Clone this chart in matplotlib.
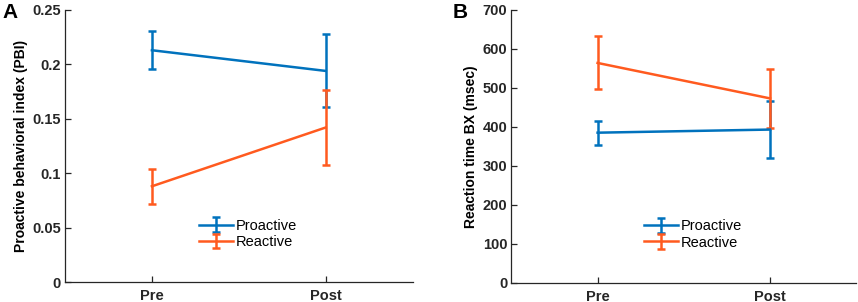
import matplotlib.pyplot as plt
import numpy as np

plt.rcParams['font.family'] = ['Liberation Sans', 'DejaVu Sans']

sessions = ['Pre', 'Post']
x = np.array([1, 2])

# Panel A: proactive behavioral index
pbi_pro = [0.213, 0.194]
pbi_pro_err = [0.0175, 0.0335]
pbi_re = [0.088, 0.142]
pbi_re_err = [0.016, 0.0345]

# Panel B: reaction time BX (msec)
rt_pro = [385, 393]
rt_pro_err = [31, 74]
rt_re = [564, 473]
rt_re_err = [68, 76]

blue = '#0072BD'
orange = '#FF5A1F'

fig = plt.figure(figsize=(8.58, 3.02), dpi=100)
axA = fig.add_axes([0.0758, 0.066, 0.405, 0.901])
axB = fig.add_axes([0.596, 0.064, 0.402, 0.903])


def style(ax, ylim, yticks, yticklabels, ylabel, legend_pos):
    ax.set_xlim(0.5, 2.5)
    ax.set_ylim(*ylim)
    ax.set_xticks(x)
    ax.set_xticklabels(sessions, fontsize=10.5, fontweight='bold')
    ax.set_yticks(yticks)
    ax.set_yticklabels(yticklabels, fontsize=10.5, fontweight='bold')
    ax.set_ylabel(ylabel, fontsize=10, fontweight='bold', labelpad=3)
    ax.spines['top'].set_visible(False)
    ax.spines['right'].set_visible(False)
    for s in ('left', 'bottom'):
        ax.spines[s].set_color('#262626')
        ax.spines[s].set_linewidth(0.9)
    ax.tick_params(direction='in', length=4, width=0.9, color='#262626',
                   labelcolor='#262626')
    ax.tick_params(axis='y', pad=3)
    ax.tick_params(axis='x', pad=5)
    ax.legend(loc='lower left', bbox_to_anchor=legend_pos, frameon=False,
              fontsize=10.5, handlelength=2.3, handletextpad=0.2,
              labelspacing=0.15, borderaxespad=0)


kw = dict(lw=1.8, capsize=3, capthick=1.8, elinewidth=1.8)
axA.errorbar(x, pbi_pro, yerr=pbi_pro_err, color=blue, label='Proactive', **kw)
axA.errorbar(x, pbi_re, yerr=pbi_re_err, color=orange, label='Reactive', **kw)
axB.errorbar(x, rt_pro, yerr=rt_pro_err, color=blue, label='Proactive', **kw)
axB.errorbar(x, rt_re, yerr=rt_re_err, color=orange, label='Reactive', **kw)

style(axA, (0, 0.25), [0, 0.05, 0.1, 0.15, 0.2, 0.25],
      ['0', '0.05', '0.1', '0.15', '0.2', '0.25'],
      'Proactive behavioral index (PBI)', (0.37, 0.10))
style(axB, (0, 700), np.arange(0, 701, 100),
      [str(v) for v in range(0, 701, 100)], 'Reaction time BX (msec)',
      (0.368, 0.10))

fig.text(0.003, 0.99, 'A', fontsize=15, fontweight='bold', va='top', ha='left')
fig.text(0.527, 0.99, 'B', fontsize=15, fontweight='bold', va='top', ha='left')

fig.savefig('out.png', dpi=100)
